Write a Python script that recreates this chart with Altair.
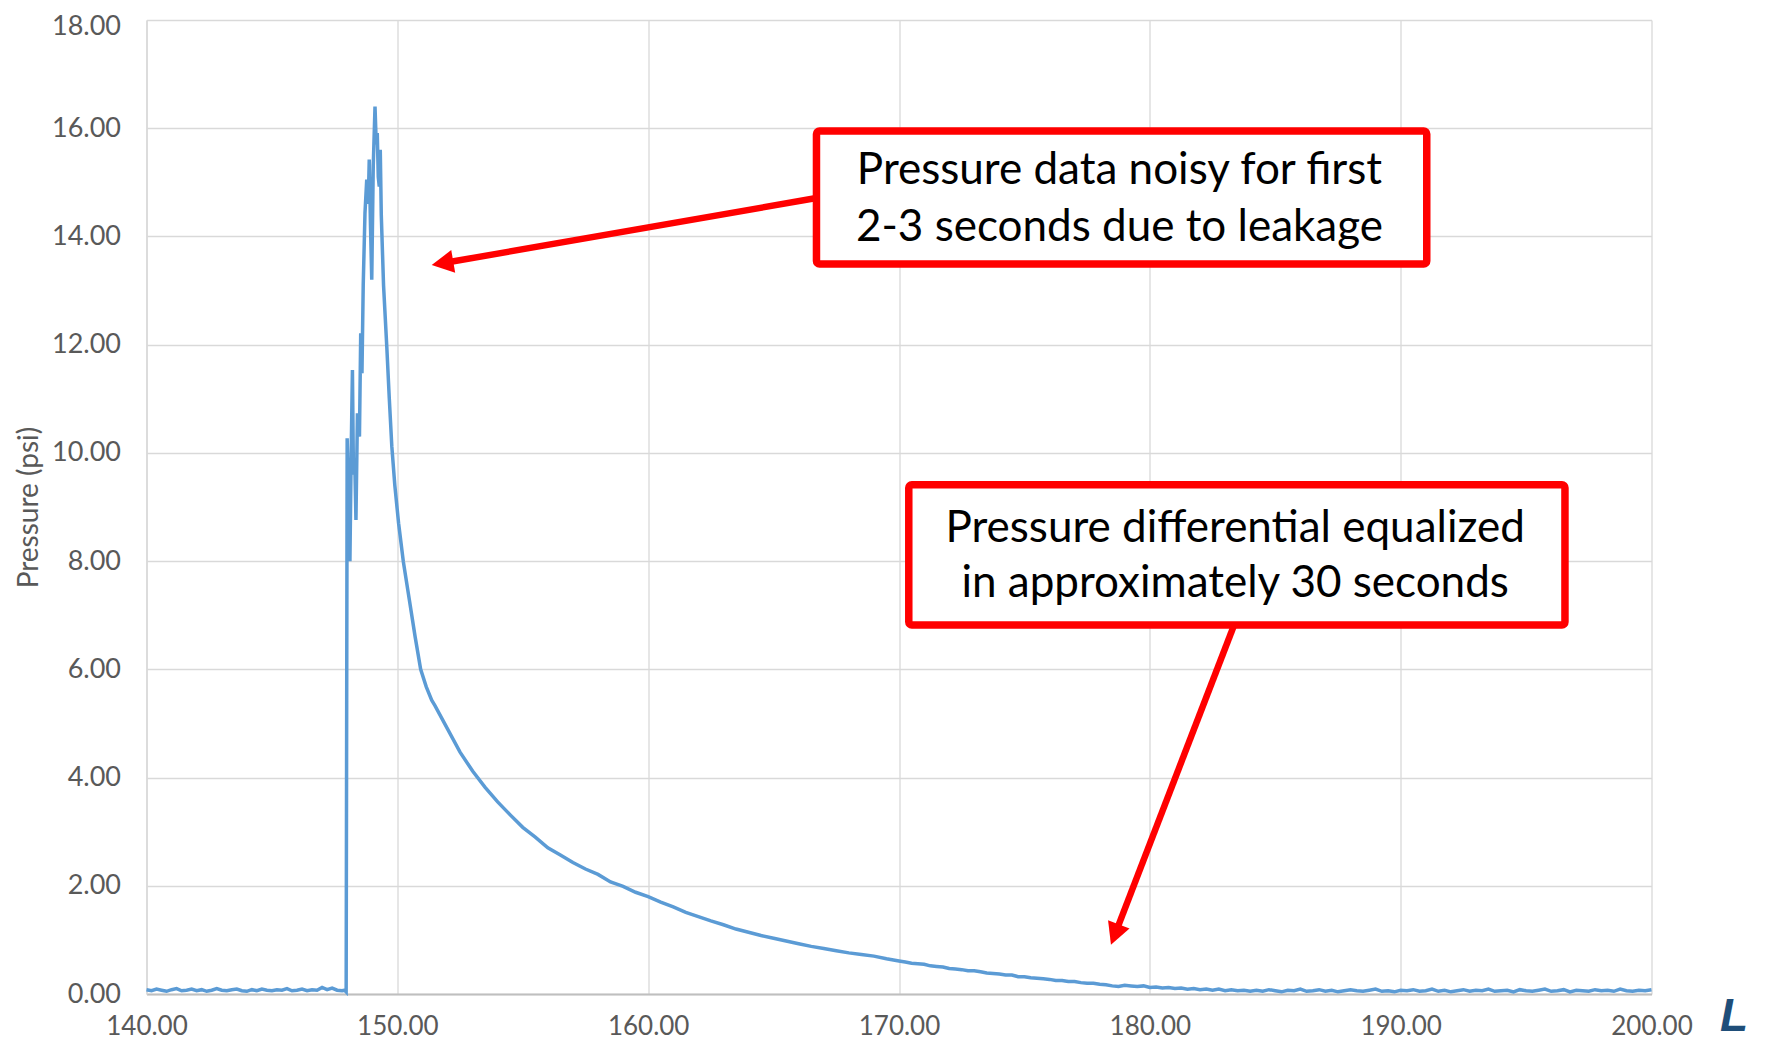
import math
import altair as alt
import pandas as pd

# ---------------- axes ----------------
X_MIN, X_MAX = 140.0, 200.0
Y_MIN, Y_MAX = 0.0, 18.0
x_ticks = [140, 150, 160, 170, 180, 190, 200]
y_ticks = [0, 2, 4, 6, 8, 10, 12, 14, 16, 18]
y_title = "Pressure (psi)"

# ---------------- series ----------------
# flat baseline before the pulse, sampled every 0.2 s from 140.0 s
baseline_start, baseline_step = 140.0, 0.2
baseline_psi = [0.08, 0.06, 0.09, 0.07, 0.05, 0.08, 0.10, 0.06, 0.07, 0.09,
                0.06, 0.08, 0.05, 0.07, 0.10, 0.07, 0.06, 0.08, 0.09, 0.06,
                0.05, 0.08, 0.06, 0.09, 0.07, 0.06, 0.08, 0.07, 0.10, 0.06,
                0.07, 0.09, 0.06, 0.08, 0.07, 0.12, 0.08, 0.11, 0.07, 0.06]

# noisy pressure pulse (irregular samples)
pulse_time = [147.90, 147.96, 148.00, 148.05, 148.11, 148.16, 148.21, 148.25, 148.30, 148.35,
              148.41, 148.45, 148.49, 148.54, 148.59, 148.64, 148.71, 148.78, 148.84, 148.88,
              148.93, 148.98, 149.04, 149.11, 149.16, 149.20, 149.24, 149.28, 149.32, 149.36,
              149.45, 149.58, 149.68, 149.78, 149.90, 150.05, 150.24, 150.48, 150.71, 150.93,
              151.15, 151.37]
pulse_psi = [0.07, 0.04, 10.27, 9.20, 8.00, 10.00, 11.53, 9.60, 9.90, 8.76,
             10.73, 10.50, 10.30, 12.21, 11.47, 13.10, 14.43, 15.05, 14.60, 15.42,
             14.20, 13.20, 15.30, 16.40, 15.70, 15.91, 15.10, 14.92, 15.60, 14.40,
             13.10, 11.96, 11.00, 10.12, 9.40, 8.70, 7.99, 7.28, 6.60, 6.00,
             5.68, 5.43]

# decay, sampled every 0.5 s from 151.5 s
decay_start, decay_step = 151.5, 0.5
decay_psi = [5.33, 4.90, 4.47, 4.12, 3.82, 3.55, 3.31, 3.08, 2.90, 2.70,
             2.57, 2.43, 2.31, 2.21, 2.07, 1.99, 1.88, 1.80, 1.70, 1.61,
             1.51, 1.43, 1.35, 1.28, 1.20, 1.14, 1.08, 1.03, 0.98, 0.93,
             0.88, 0.84, 0.80, 0.76, 0.73, 0.70, 0.65]

# tail, sampled every 0.25 s from 170.0 s to 200.0 s
tail_start, tail_step = 170.0, 0.25
tail_psi = [0.61, 0.59, 0.57, 0.56, 0.55, 0.52, 0.51, 0.50, 0.47, 0.46,
            0.45, 0.43, 0.43, 0.41, 0.39, 0.38, 0.37, 0.35, 0.35, 0.32,
            0.32, 0.30, 0.29, 0.28, 0.27, 0.25, 0.25, 0.23, 0.23, 0.21,
            0.20, 0.20, 0.18, 0.17, 0.15, 0.14, 0.16, 0.15, 0.14, 0.15,
            0.12, 0.13, 0.11, 0.12, 0.10, 0.11, 0.09, 0.10, 0.08, 0.09,
            0.07, 0.09, 0.06, 0.08, 0.06, 0.07, 0.05,
            0.07, 0.05, 0.08, 0.06, 0.04, 0.07, 0.06, 0.09, 0.05, 0.06,
            0.08, 0.05, 0.07, 0.04, 0.06, 0.08, 0.06, 0.05, 0.07, 0.09,
            0.05, 0.06, 0.04, 0.07, 0.06, 0.08, 0.05, 0.06, 0.09, 0.05,
            0.07, 0.04, 0.06, 0.08, 0.05, 0.07, 0.06, 0.09, 0.05, 0.06,
            0.07, 0.04, 0.08, 0.06, 0.05, 0.07, 0.09, 0.05, 0.06, 0.08,
            0.04, 0.07, 0.06, 0.05, 0.08, 0.06, 0.07, 0.05, 0.09, 0.06,
            0.05, 0.07, 0.06, 0.08]

# ---------------- annotations ----------------
box_x1 = [166.71, 170.39]
box_x2 = [191.04, 196.55]
box_y1 = [15.95, 9.41]
box_y2 = [13.49, 6.82]

note_text = ["Pressure data noisy for first", "2-3 seconds due to leakage",
             "Pressure differential equalized", "in approximately 30 seconds"]
note_x = [178.79, 178.79, 183.40, 183.40]
note_y = [14.97, 13.92, 8.36, 7.34]

arrow_start_x = [166.71, 183.36]
arrow_start_y = [14.71, 6.82]
arrow_tip_x = [151.37, 178.45]
arrow_tip_y = [13.47, 0.91]

# ---------------- layout ----------------
W, H = 1505, 974
PAD_L, PAD_T = 138.5, 12
FONT = "Lato"
BLUE = "#5B9BD5"
RED = "#FF0000"
GRID = "#D9D9D9"
LABEL = "#595959"

times = [round(baseline_start + i * baseline_step, 3) for i in range(len(baseline_psi))]
times += pulse_time
times += [round(decay_start + i * decay_step, 3) for i in range(len(decay_psi))]
times += [round(tail_start + i * tail_step, 3) for i in range(len(tail_psi))]
psi = baseline_psi + pulse_psi + decay_psi + tail_psi
df = pd.DataFrame({"t": times, "p": psi, "order": list(range(len(times)))})

xscale = alt.Scale(domain=[X_MIN, X_MAX], nice=False, zero=False)
yscale = alt.Scale(domain=[Y_MIN, Y_MAX], nice=False, zero=False)

x_axis = alt.Axis(values=x_ticks, format=".2f", title=None, grid=True,
                  gridColor=GRID, gridWidth=1.3, domainColor="#BFBFBF", domainWidth=2,
                  ticks=False, tickSize=0, labelFont=FONT, labelFontSize=26,
                  labelColor=LABEL, labelPadding=32, labelBaseline="middle",
                  labelFlush=False, labelOverlap=False)
y_axis = alt.Axis(values=y_ticks, format=".2f", title=y_title, grid=True,
                  gridColor=GRID, gridWidth=1.3, domainColor=GRID, domainWidth=1.5,
                  ticks=False, tickSize=0, labelFont=FONT, labelFontSize=27,
                  labelColor=LABEL, labelPadding=26, labelFlush=False, labelOverlap=False,
                  labelOffset=alt.condition("datum.value == 18", alt.value(6), alt.value(0)),
                  titleFont=FONT, titleFontSize=28, titleColor=LABEL, titleFontWeight="normal",
                  titleX=-117.5, titleY=487, titleAngle=270, titleAlign="center",
                  titleBaseline="middle")

line = alt.Chart(df).mark_line(color=BLUE, strokeWidth=3.5).encode(
    x=alt.X("t:Q", scale=xscale, axis=x_axis),
    y=alt.Y("p:Q", scale=yscale, axis=y_axis),
    order="order:Q",
)

# arrows: shaft + head, direction computed in pixel space
sx = W / (X_MAX - X_MIN)
sy = H / (Y_MAX - Y_MIN)
HEAD_LEN = 21.9
shaft_rows, head_rows = [], []
for xs, ys, xt, yt in zip(arrow_start_x, arrow_start_y, arrow_tip_x, arrow_tip_y):
    dx = (xt - xs) * sx
    dy = -(yt - ys) * sy
    L = math.hypot(dx, dy)
    ux, uy = dx / L, dy / L
    ang = math.degrees(math.atan2(ux, -uy)) % 360
    back = HEAD_LEN - 4
    xb = xt - back * ux / sx
    yb = yt + back * uy / sy
    shaft_rows.append({"x": xs, "y": ys, "x2": xb, "y2": yb})
    head_rows.append({"x": xt, "y": yt, "ang": ang})
shaft_df = pd.DataFrame(shaft_rows)
head_df = pd.DataFrame(head_rows)

shafts = alt.Chart(shaft_df).mark_rule(color=RED, strokeWidth=6.5).encode(
    x=alt.X("x:Q", scale=xscale), y=alt.Y("y:Q", scale=yscale),
    x2="x2:Q", y2="y2:Q")
heads = alt.Chart(head_df).mark_point(
    shape="M0,0L-1,1.9L1,1.9Z", filled=True, color=RED, opacity=1, size=529, strokeWidth=0
).encode(x=alt.X("x:Q", scale=xscale), y=alt.Y("y:Q", scale=yscale),
         angle=alt.Angle("ang:Q", scale=None))

box_df = pd.DataFrame({"x1": box_x1, "x2": box_x2, "y1": box_y1, "y2": box_y2})
boxes = alt.Chart(box_df).mark_rect(fill="white", stroke=RED, strokeWidth=7.5,
                                    cornerRadius=3).encode(
    x=alt.X("x1:Q", scale=xscale), x2="x2:Q",
    y=alt.Y("y1:Q", scale=yscale), y2="y2:Q")

note_df = pd.DataFrame({"x": note_x, "y": note_y, "text": note_text})
notes = alt.Chart(note_df).mark_text(font=FONT, fontSize=44, color="black",
                                     align="center", baseline="alphabetic").encode(
    x=alt.X("x:Q", scale=xscale), y=alt.Y("y:Q", scale=yscale), text="text:N")

logo = alt.Chart(pd.DataFrame({"s": ["L"]})).mark_text(
    font="Liberation Sans", fontSize=46, fontWeight="bold", fontStyle="italic",
    color="#1F4E79", align="center", baseline="alphabetic"
).encode(x=alt.value(1734 - 146.5), y=alt.value(1031 - 20), text="s:N")

chart = alt.layer(line, shafts, heads, boxes, notes, logo).properties(
    width=W, height=H,
    autosize=alt.AutoSizeParams(type="none"),
    padding={"left": PAD_L, "top": PAD_T, "right": 107, "bottom": 48},
).configure_view(stroke=None)

chart.save("out.html", embed_options={"renderer": "svg", "actions": False})
